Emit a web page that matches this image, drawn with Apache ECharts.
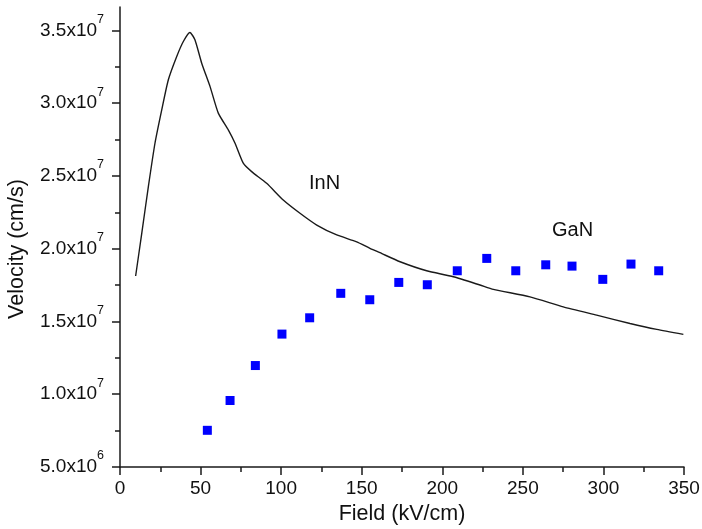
<!DOCTYPE html>
<html>
<head>
<meta charset="utf-8">
<script src="https://cdn.jsdelivr.net/npm/echarts@6/dist/echarts.min.js"></script>
<style>
html,body{margin:0;padding:0;background:#fff;}
#chart{width:702px;height:529px;}
</style>
</head>
<body>
<div id="chart"></div>
<script>
// InN velocity-field curve (field kV/cm, velocity cm/s)
const fieldInN = [9.7, 13.5, 17.6, 21.7, 25.9, 30.0, 35.2, 39.3, 43.4, 46.5, 50.7, 55.9, 61.0, 67.2, 71.4, 76.5, 81.7, 91.0, 101.3, 111.7, 122.1, 134.5, 146.9, 155.1, 161.3, 173.8, 190.3, 206.8, 223.4, 231.7, 254.4, 275.1, 295.8, 316.5, 333.1, 349.6];
const velInN = [1.812e7, 2.105e7, 2.426e7, 2.724e7, 2.953e7, 3.160e7, 3.320e7, 3.423e7, 3.485e7, 3.435e7, 3.274e7, 3.113e7, 2.931e7, 2.816e7, 2.724e7, 2.587e7, 2.529e7, 2.449e7, 2.334e7, 2.243e7, 2.162e7, 2.094e7, 2.047e7, 2.002e7, 1.972e7, 1.910e7, 1.848e7, 1.807e7, 1.750e7, 1.720e7, 1.669e7, 1.600e7, 1.543e7, 1.486e7, 1.445e7, 1.411e7];

// GaN points
const fieldGaN = [54.2, 68.3, 84.0, 100.5, 117.7, 137.0, 155.0, 173.0, 190.7, 209.3, 227.6, 245.6, 264.2, 280.5, 299.6, 317.1, 334.3];
const velGaN = [7.52e6, 9.57e6, 1.197e7, 1.413e7, 1.525e7, 1.693e7, 1.649e7, 1.768e7, 1.752e7, 1.848e7, 1.933e7, 1.848e7, 1.889e7, 1.880e7, 1.789e7, 1.894e7, 1.848e7];

// Axis ticks
const yMajorTicks = [5e6, 1e7, 1.5e7, 2e7, 2.5e7, 3e7, 3.5e7];
const yMinorTicks = [7.5e6, 1.25e7, 1.75e7, 2.25e7, 2.75e7, 3.25e7];
const xMin = 0, xMax = 350, xInterval = 50;
const yMin = 5e6, yMax = 3.66e7;

const xLabel = 'Field (kV/cm)';
const yLabel = 'Velocity (cm/s)';
const nameInN = 'InN';
const nameGaN = 'GaN';

const FONT = '"Liberation Sans", Arial, Helvetica, sans-serif';
const AXC = '#1a1a1a';

function fmtY(v) {
  if (v >= 1e7) return '{b|' + (v / 1e7).toFixed(1) + 'x10}{s|7}';
  return '{b|' + (v / 1e6).toFixed(1) + 'x10}{s|6}';
}

const chart = echarts.init(document.getElementById('chart'), null, {renderer: 'canvas'});
chart.setOption({
  animation: false,
  backgroundColor: '#fff',
  grid: {left: 120, right: 18, top: 7, bottom: 62, containLabel: false, outerBoundsMode: 'none'},
  xAxis: {
    type: 'value', min: xMin, max: xMax, interval: xInterval,
    name: xLabel, nameLocation: 'middle', nameGap: 36,
    nameTextStyle: {fontFamily: FONT, fontSize: 21.5, color: '#111'},
    axisLine: {show: true, lineStyle: {color: AXC, width: 1.5}},
    axisTick: {show: true, inside: false, length: 8, lineStyle: {color: AXC, width: 1.5}},
    minorTick: {show: true, splitNumber: 2, length: 5, lineStyle: {color: AXC, width: 1.5}},
    splitLine: {show: false},
    axisLabel: {fontFamily: FONT, fontSize: 19, color: '#111', margin: 12}
  },
  yAxis: [{
    type: 'value', min: yMin, max: yMax, position: 'left',
    name: yLabel, nameLocation: 'middle', nameGap: 92, nameRotate: 90,
    nameTextStyle: {fontFamily: FONT, fontSize: 21.5, color: '#111', padding: [0, 24, 0, 0]},
    axisLine: {show: true, lineStyle: {color: AXC, width: 1.5}},
    axisTick: {show: true, inside: false, length: 8, customValues: yMajorTicks, lineStyle: {color: AXC, width: 1.5}},
    splitLine: {show: false},
    axisLabel: {
      customValues: yMajorTicks, margin: 16, formatter: fmtY,
      padding: [0, 0, 8, 0],
      rich: {
        b: {fontFamily: FONT, fontSize: 19, color: '#111', lineHeight: 27, verticalAlign: 'bottom'},
        s: {fontFamily: FONT, fontSize: 12.5, color: '#111', lineHeight: 12, verticalAlign: 'top'}
      }
    }
  }, {
    type: 'value', min: yMin, max: yMax, position: 'left',
    axisLine: {show: false},
    axisTick: {show: true, inside: false, length: 5, customValues: yMinorTicks, lineStyle: {color: AXC, width: 1.5}},
    axisLabel: {show: false},
    splitLine: {show: false}
  }],
  series: [{
    name: nameInN, type: 'line', xAxisIndex: 0, yAxisIndex: 0,
    data: fieldInN.map((x, i) => [x, velInN[i]]),
    showSymbol: false, symbol: 'none', smooth: 0.2,
    lineStyle: {color: '#1a1a1a', width: 1.4}
  }, {
    name: nameGaN, type: 'scatter', xAxisIndex: 0, yAxisIndex: 0,
    data: fieldGaN.map((x, i) => [x, velGaN[i]]),
    symbol: 'rect', symbolSize: 9,
    itemStyle: {color: '#0000ff', opacity: 1}
  }],
  graphic: [{
    type: 'text', left: 309, top: 173,
    style: {text: nameInN, font: '20px ' + FONT, fill: '#111'}
  }, {
    type: 'text', left: 552, top: 220,
    style: {text: nameGaN, font: '20px ' + FONT, fill: '#111'}
  }]
});
</script>
</body>
</html>
